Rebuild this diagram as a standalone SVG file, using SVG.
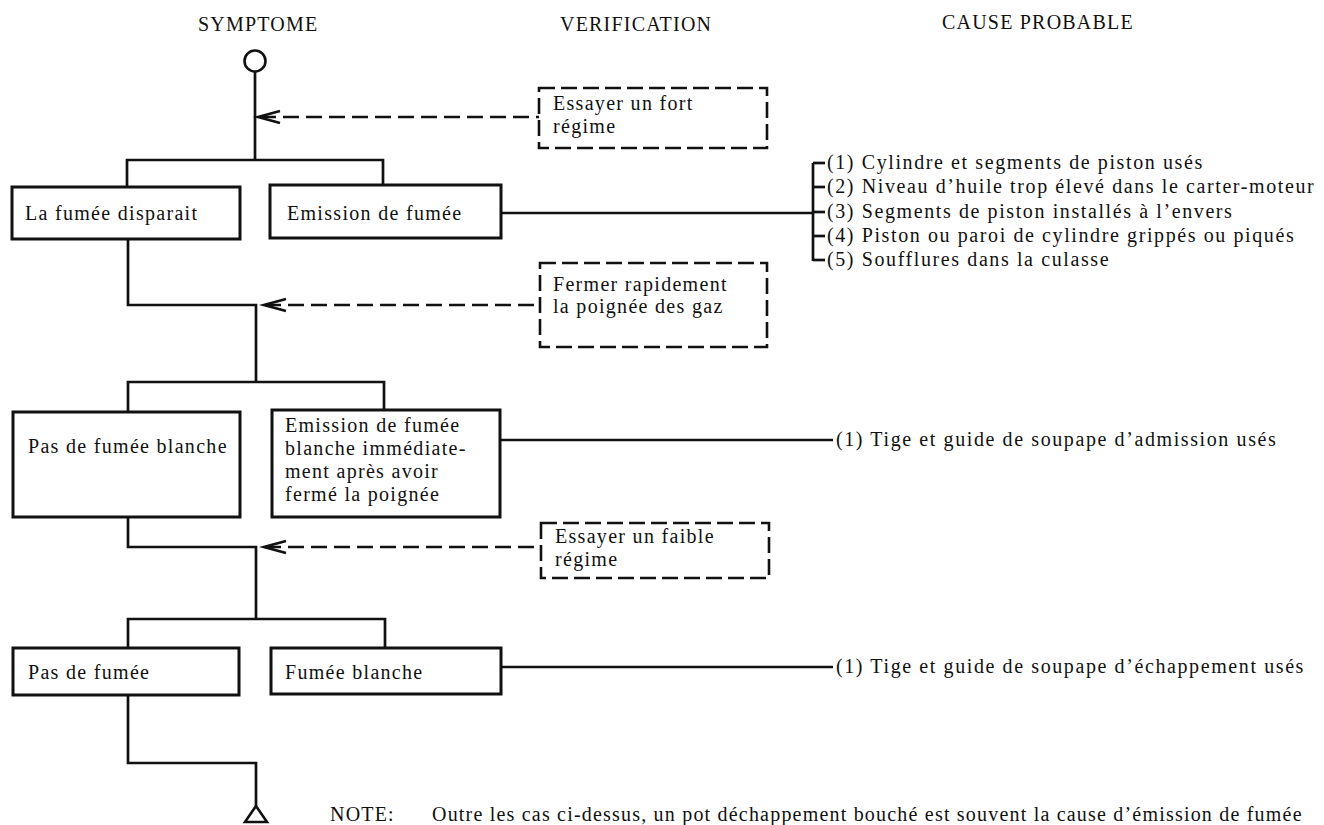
<svg xmlns="http://www.w3.org/2000/svg" width="1324" height="825" viewBox="0 0 1324 825">
<style>
  text { font-family: "Liberation Serif", "Times New Roman", serif; font-size: 20px; letter-spacing: 1.3px; fill: #111; }
  .hdr { font-size: 20px; letter-spacing: 1.2px; }
  .cz { letter-spacing: 1.6px; }
  .nt { letter-spacing: 1.2px; }
  .box { fill: #fff; stroke: #111; stroke-width: 3; }
  .dbox { fill: none; stroke: #111; stroke-width: 2.6; stroke-dasharray: 16 6; }
  .ln { fill: none; stroke: #111; stroke-width: 2.7; }
  .dl { fill: none; stroke: #111; stroke-width: 2.6; stroke-dasharray: 16 7; }
  .arr { fill: none; stroke: #111; stroke-width: 2.7; }
</style>
<rect width="1324" height="825" fill="#fff"/>

<g id="headers">
  <text class="hdr" x="198" y="31">SYMPTOME</text>
  <text class="hdr" x="560" y="31">VERIFICATION</text>
  <text class="hdr" x="942" y="29">CAUSE PROBABLE</text>
</g>

<g id="connectors">
  <line class="ln" x1="255" y1="72" x2="255" y2="160"/>
  <polyline class="ln" points="127,187 127,160 383,160 383,185"/>
  <line class="ln" x1="501" y1="213" x2="813" y2="213"/>
  <line class="ln" x1="813" y1="163" x2="813" y2="261"/>
  <line class="ln" x1="813" y1="163" x2="825" y2="163"/>
  <line class="ln" x1="813" y1="187" x2="825" y2="187"/>
  <line class="ln" x1="813" y1="212" x2="825" y2="212"/>
  <line class="ln" x1="813" y1="236" x2="825" y2="236"/>
  <line class="ln" x1="813" y1="260" x2="825" y2="260"/>
  <polyline class="ln" points="128,239 128,305 256,305 256,382"/>
  <polyline class="ln" points="128,412 128,382 384,382 384,410"/>
  <line class="ln" x1="500" y1="440" x2="833" y2="440"/>
  <polyline class="ln" points="128,517 128,547 256,547 256,619"/>
  <polyline class="ln" points="128,648 128,619 385,619 385,648"/>
  <line class="ln" x1="501" y1="667" x2="833" y2="667"/>
  <polyline class="ln" points="128,695 128,763 256,763 256,806"/>
  <line class="dl" x1="260" y1="117" x2="539" y2="117"/>
  <polyline class="arr" points="280,111 258,117 280,123"/>
  <line class="dl" x1="265" y1="305" x2="540" y2="305"/>
  <polyline class="arr" points="286,299 264,305 286,311"/>
  <line class="dl" x1="265" y1="547" x2="541" y2="547"/>
  <polyline class="arr" points="286,541 264,547 286,553"/>
</g>

<g id="start">
  <circle cx="255" cy="61" r="10.5" fill="#fff" stroke="#111" stroke-width="2.6"/>
</g>

<g id="check1">
  <rect class="dbox" x="539" y="88" width="228" height="60"/>
  <text x="553" y="110">Essayer un fort</text>
  <text x="553" y="133">régime</text>
</g>

<g id="sym1a">
  <rect class="box" x="12" y="187" width="228" height="52"/>
  <text x="25" y="220">La fumée disparait</text>
</g>
<g id="sym1b">
  <rect class="box" x="270" y="185" width="231" height="53"/>
  <text x="287" y="220">Emission de fumée</text>
</g>

<g id="causes1">
  <text class="cz" x="827" y="169">(1) Cylindre et segments de piston usés</text>
  <text class="cz" x="827" y="193">(2) Niveau d’huile trop élevé dans le carter-moteur</text>
  <text class="cz" x="827" y="218">(3) Segments de piston installés à l’envers</text>
  <text class="cz" x="827" y="242">(4) Piston ou paroi de cylindre grippés ou piqués</text>
  <text class="cz" x="827" y="266">(5) Soufflures dans la culasse</text>
</g>

<g id="check2">
  <rect class="dbox" x="540" y="263" width="227" height="84"/>
  <text x="553" y="291">Fermer rapidement</text>
  <text x="553" y="313">la poignée des gaz</text>
</g>

<g id="sym2a">
  <rect class="box" x="13" y="412" width="227" height="105"/>
  <text x="28" y="453">Pas de fumée blanche</text>
</g>
<g id="sym2b">
  <rect class="box" x="272" y="410" width="228" height="107"/>
  <text x="285" y="432">Emission de fumée</text>
  <text x="285" y="455">blanche immédiate-</text>
  <text x="285" y="478">ment après avoir</text>
  <text x="285" y="501">fermé la poignée</text>
</g>

<g id="cause2">
  <text class="cz" x="836" y="446">(1) Tige et guide de soupape d’admission usés</text>
</g>

<g id="check3">
  <rect class="dbox" x="541" y="523" width="228" height="55"/>
  <text x="555" y="543">Essayer un faible</text>
  <text x="555" y="566">régime</text>
</g>

<g id="sym3a">
  <rect class="box" x="13" y="648" width="226" height="47"/>
  <text x="28" y="679">Pas de fumée</text>
</g>
<g id="sym3b">
  <rect class="box" x="271" y="648" width="230" height="46"/>
  <text x="285" y="679">Fumée blanche</text>
</g>

<g id="cause3">
  <text class="cz" x="836" y="673">(1) Tige et guide de soupape d’échappement usés</text>
</g>

<g id="end">
  <polygon points="256,806 245,822 267,822" fill="#fff" stroke="#111" stroke-width="2.6"/>
</g>

<g id="note">
  <text class="nt" x="330" y="821">NOTE:</text>
  <text class="nt" x="432" y="821">Outre les cas ci-dessus, un pot déchappement bouché est souvent la cause d’émission de fumée</text>
</g>
</svg>
